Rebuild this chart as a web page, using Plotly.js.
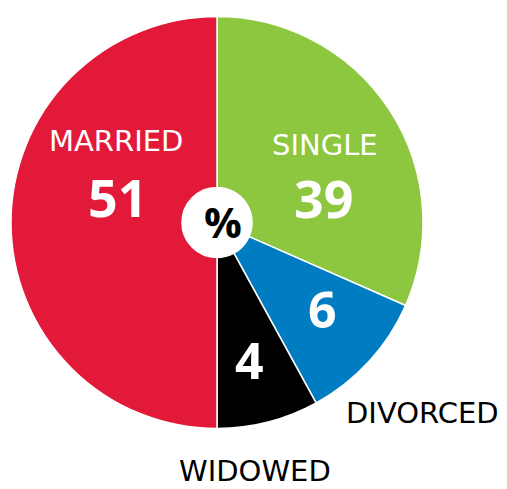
<!DOCTYPE html>
<html>
<head>
<meta charset="utf-8">
<script src="https://cdn.plot.ly/plotly-3.0.1.min.js"></script>
<style>
  html, body { margin: 0; padding: 0; background: #fff; }
  #chart { width: 507px; height: 489px; }
</style>
</head>
<body>
<div id="chart"></div>
<script>
// Data
const categories = ['SINGLE', 'DIVORCED', 'WIDOWED', 'MARRIED'];
const percentLabels = [39, 6, 4, 51];          // printed values (%)
const sliceShares = [31.6, 10.4, 8.0, 50.0];   // slice sizes as drawn in the reference
const sliceColors = ['#8DC63F', '#007CC2', '#000000', '#E3193A'];

const W = 507, H = 489;
const px = x => x / W;
const py = y => 1 - y / H;

const nameFont = 'DejaVu Sans, Open Sans, sans-serif';
const numFont = 'Open Sans, Noto Sans, DejaVu Sans, sans-serif';

const pie = {
  type: 'pie',
  labels: categories,
  values: sliceShares,
  sort: false,
  direction: 'clockwise',
  rotation: 0,
  hole: 0.17,
  textinfo: 'none',
  hoverinfo: 'none',
  marker: { colors: sliceColors, line: { color: '#ffffff', width: 1.5 } },
  domain: { x: [px(11), px(423)], y: [py(428.5), py(16.5)] },
  showlegend: false
};

// label placements (paper px) per category
const namePos = {
  SINGLE:   { x: 325, y: 145, color: '#ffffff' },
  DIVORCED: { x: 422, y: 413, color: '#000000' },
  WIDOWED:  { x: 255, y: 471, color: '#000000' },
  MARRIED:  { x: 116, y: 141, color: '#ffffff' }
};
const valuePos = {
  SINGLE:   { x: 323, y: 197, size: 52 },
  DIVORCED: { x: 322, y: 309, size: 50 },
  WIDOWED:  { x: 249, y: 360, size: 50 },
  MARRIED:  { x: 117, y: 196, size: 52 }
};

const annotations = [];
categories.forEach((c, i) => {
  const n = namePos[c];
  annotations.push({
    xref: 'paper', yref: 'paper', x: px(n.x), y: py(n.y),
    xanchor: 'center', yanchor: 'middle', showarrow: false,
    text: c, font: { family: nameFont, size: 29, color: n.color }
  });
  const v = valuePos[c];
  annotations.push({
    xref: 'paper', yref: 'paper', x: px(v.x), y: py(v.y),
    xanchor: 'center', yanchor: 'middle', showarrow: false,
    text: '<b>' + percentLabels[i] + '</b>',
    font: { family: numFont, size: v.size, color: '#ffffff' }
  });
});
annotations.push({
  xref: 'paper', yref: 'paper', x: px(223), y: py(221),
  xanchor: 'center', yanchor: 'middle', showarrow: false,
  text: '<b>%</b>', font: { family: numFont, size: 42, color: '#000000' }
});

const layout = {
  width: W, height: H,
  margin: { l: 0, r: 0, t: 0, b: 0 },
  paper_bgcolor: '#ffffff',
  plot_bgcolor: '#ffffff',
  showlegend: false,
  annotations: annotations
};

Plotly.newPlot('chart', [pie], layout, { displayModeBar: false, staticPlot: true });
</script>
</body>
</html>
